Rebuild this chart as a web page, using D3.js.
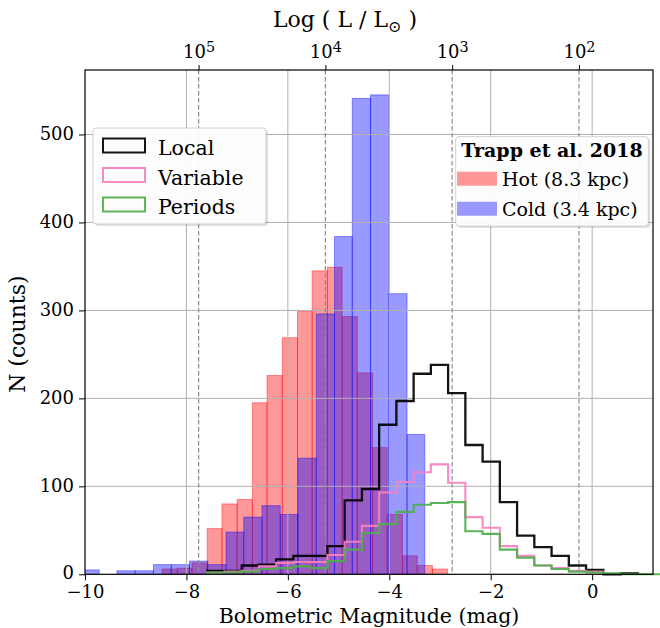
<!DOCTYPE html>
<html>
<head>
<meta charset="utf-8">
<script src="https://cdn.jsdelivr.net/npm/d3@7"></script>
<style>
  body { margin: 0; background: #fff; }
  svg { display: block; }
  text { font-family: "DejaVu Serif", serif; fill: #000; }
</style>
</head>
<body>
<svg id="chart" width="660" height="628"></svg>
<script>
// ---------------- data ----------------
// Trapp et al. 2018 "Cold" (3.4 kpc) histogram: bin edges (mag) and counts
const coldEdges = [-10.08, -9.72, -9.37, -9.01, -8.65, -8.30, -7.94, -7.58, -7.22, -6.87,
                   -6.51, -6.15, -5.80, -5.44, -5.08, -4.73, -4.37, -4.01, -3.65, -3.30];
const coldCounts = [5, 0, 4, 4, 11, 11, 15, 11, 48, 65, 78, 68, 132, 296, 384, 541, 545, 319, 159];

// Trapp et al. 2018 "Hot" (8.3 kpc) histogram
const hotEdges = [-8.48, -8.18, -7.89, -7.59, -7.30, -7.00, -6.70, -6.41, -6.11, -5.81,
                  -5.52, -5.22, -4.93, -4.63, -4.33, -4.04, -3.74, -3.45, -3.15, -2.85];
const hotCounts = [6, 7, 13, 52, 80, 85, 195, 226, 269, 299, 345, 349, 293, 229, 144, 68, 21, 10, 6];

// Step histograms (Local / Variable / Periods) share these bin edges
const stepEdges = [-7.59, -7.25, -6.91, -6.57, -6.23, -5.89, -5.56, -5.22, -4.88, -4.54,
                   -4.20, -3.86, -3.52, -3.18, -2.84, -2.50, -2.16, -1.82, -1.48, -1.14,
                   -0.80, -0.46, -0.12, 0.22, 0.56, 0.90, 1.24, 1.58];
const localCounts    = [4, 4, 10, 11, 17, 21, 21, 32, 84, 97, 170, 197, 228, 238, 206, 147, 128, 82, 44, 31, 21, 10, 5, 0, 1];
const variableCounts = [2, 3, 4, 9, 13, 14, 14, 22, 37, 55, 93, 105, 116, 125, 104, 65, 53, 32, 21, 10, 7, 4, 3];
const periodsCounts  = [2, 2, 3, 6, 7, 9, 7, 15, 28, 47, 57, 71, 79, 81, 82, 49, 46, 28, 19, 10, 6, 3, 2, 1, 0, 0, 0];

// axes
const xDomain = [-10, 1.2];
const yDomain = [0, 573.3];
const xTicks = [-10, -8, -6, -4, -2, 0];
const yTicks = [0, 100, 200, 300, 400, 500];
const lumTicks = [1e5, 1e4, 1e3, 1e2];
const lumTickLabels = ["5", "4", "3", "2"];   // exponents of 10
const sunMbol = 4.74;

const stepSeries = [
  { name: "Local",    counts: localCounts,    color: "#000000", width: 2.3 },
  { name: "Variable", counts: variableCounts, color: "#f781bf", width: 2.1 },
  { name: "Periods",  counts: periodsCounts,  color: "#4daf4a", width: 2.1 }
];
const barSeries = [
  { name: "Hot (8.3 kpc)",  edges: hotEdges,  counts: hotCounts,  color: "#ff0000" },
  { name: "Cold (3.4 kpc)", edges: coldEdges, counts: coldCounts, color: "#0000ff" }
];

// ---------------- drawing ----------------
const svg = d3.select("#chart");
const L = 85, R = 653, T = 70, B = 574.3;

const x = d3.scaleLinear().domain(xDomain).range([L, R]);
const y = d3.scaleLinear().domain(yDomain).range([B, T]);
const magToLum = m => Math.pow(10, (sunMbol - m) / 2.5);
const xLum = d3.scaleLog().domain([magToLum(xDomain[0]), magToLum(xDomain[1])]).range([L, R]);

svg.append("defs").append("clipPath").attr("id", "clip")
  .append("rect").attr("x", L).attr("y", T).attr("width", R - L).attr("height", B - T);

// bars (Hot first, Cold on top)
const barsG = svg.append("g").attr("clip-path", "url(#clip)");
barSeries.forEach(s => {
  const bins = s.counts.map((c, i) => ({ x0: s.edges[i], x1: s.edges[i + 1], c }));
  barsG.append("g").selectAll("rect").data(bins.filter(d => d.c > 0)).join("rect")
    .attr("x", d => x(d.x0))
    .attr("width", d => x(d.x1) - x(d.x0))
    .attr("y", d => y(d.c))
    .attr("height", d => y(0) - y(d.c))
    .attr("fill", s.color).attr("fill-opacity", 0.4)
    .attr("stroke", s.color).attr("stroke-opacity", 0.4).attr("stroke-width", 1);
});

// grid
const gridG = svg.append("g");
gridG.selectAll(".gx").data(xTicks.slice(1)).join("line")
  .attr("x1", d => x(d)).attr("x2", d => x(d)).attr("y1", T).attr("y2", B)
  .attr("stroke", "#b0b0b0").attr("stroke-width", 1);
gridG.selectAll(".gy").data(yTicks.slice(1)).join("line")
  .attr("x1", L).attr("x2", R).attr("y1", d => y(d)).attr("y2", d => y(d))
  .attr("stroke", "#b0b0b0").attr("stroke-width", 1);
gridG.selectAll(".gl").data(lumTicks).join("line")
  .attr("x1", d => xLum(d)).attr("x2", d => xLum(d)).attr("y1", T).attr("y2", B)
  .attr("stroke", "#8c8c8c").attr("stroke-width", 1.2).attr("stroke-dasharray", "4.5,2.5");

// step histograms
const line = d3.line().x(d => d[0]).y(d => d[1]);
stepSeries.forEach(s => {
  const pts = [[x(stepEdges[0]), y(0)]];
  s.counts.forEach((c, i) => {
    pts.push([x(stepEdges[i]), y(c)]);
    pts.push([x(stepEdges[i + 1]), y(c)]);
  });
  pts.push([x(stepEdges[s.counts.length]), y(0)]);
  svg.append("path").attr("d", line(pts))
    .attr("fill", "none").attr("stroke", s.color).attr("stroke-width", s.width)
    .attr("stroke-opacity", 0.92).attr("stroke-linejoin", "miter");
});

// axes
const fs = 18;
const xAxis = svg.append("g").attr("transform", `translate(0,${B})`)
  .call(d3.axisBottom(x).tickValues(xTicks).tickSize(6).tickPadding(5).tickFormat(d3.format("d")));
const yAxis = svg.append("g").attr("transform", `translate(${L},0)`)
  .call(d3.axisLeft(y).tickValues(yTicks).tickSize(6).tickPadding(5));
const tAxis = svg.append("g").attr("transform", `translate(0,${T})`)
  .call(d3.axisTop(xLum).tickValues(lumTicks).tickSize(5).tickPadding(7).tickFormat(() => ""));
[xAxis, yAxis, tAxis].forEach(g => {
  g.select(".domain").remove();
  g.selectAll(".tick line").attr("stroke", "#000").attr("stroke-width", 1);
  g.selectAll("text").attr("font-family", "DejaVu Serif").attr("font-size", fs).attr("fill", "#000");
});
yAxis.selectAll(".tick text").attr("dy", "0.26em");
tAxis.selectAll(".tick text").each(function (d, i) {
  const t = d3.select(this);
  t.text("");
  t.append("tspan").text("10");
  t.append("tspan").attr("dy", "-0.45em").attr("font-size", fs * 0.8).text(lumTickLabels[i]);
});

// frame
svg.append("rect").attr("x", L).attr("y", T).attr("width", R - L).attr("height", B - T)
  .attr("fill", "none").attr("stroke", "#000").attr("stroke-width", 1.2);

// axis titles
svg.append("text").attr("x", (L + R) / 2).attr("y", 623).attr("text-anchor", "middle")
  .attr("font-size", 20.5).text("Bolometric Magnitude (mag)");
svg.append("text").attr("transform", `translate(25,${(T + B) / 2 + 12}) rotate(-90)`)
  .attr("text-anchor", "middle").attr("font-size", 22).text("N (counts)");
const topTitle = svg.append("text").attr("x", 345).attr("y", 27)
  .attr("text-anchor", "middle").attr("font-size", 22);
topTitle.append("tspan").text("Log ( L / L");
topTitle.append("tspan").attr("dy", 5).attr("font-size", 16).text("⊙");
topTitle.append("tspan").attr("dy", -5).text(" )");

// legend helper
function legendBox(x0, y0, w, h) {
  svg.append("rect").attr("x", x0 + 2).attr("y", y0 + 2).attr("width", w).attr("height", h)
    .attr("rx", 3).attr("fill", "#000").attr("fill-opacity", 0.12);
  svg.append("rect").attr("x", x0).attr("y", y0).attr("width", w).attr("height", h)
    .attr("rx", 3).attr("fill", "#fff").attr("fill-opacity", 0.92)
    .attr("stroke", "#d0d0d0").attr("stroke-width", 1);
}

// left legend (step histograms)
legendBox(93, 128, 173, 96);
stepSeries.forEach((s, i) => {
  const yy = 138.5 + i * 29.5;
  svg.append("rect").attr("x", 103).attr("y", yy).attr("width", 42).attr("height", 14)
    .attr("fill", "none").attr("stroke", s.color).attr("stroke-width", 2).attr("stroke-opacity", 0.92);
  svg.append("text").attr("x", 158).attr("y", yy + 16.5).attr("font-size", 20.5).text(s.name);
});

// right legend (Trapp et al.)
legendBox(455.7, 136.7, 192.6, 89.3);
svg.append("text").attr("x", 552).attr("y", 157).attr("text-anchor", "middle")
  .attr("font-size", 19).attr("font-weight", "bold").text("Trapp et al. 2018");
barSeries.forEach((s, i) => {
  const yy = 171.7 + i * 30;
  svg.append("rect").attr("x", 457).attr("y", yy).attr("width", 40).attr("height", 14)
    .attr("fill", s.color).attr("fill-opacity", 0.4);
  svg.append("text").attr("x", 502).attr("y", yy + 14.5).attr("font-size", 19).text(s.name);
});
</script>
</body>
</html>
